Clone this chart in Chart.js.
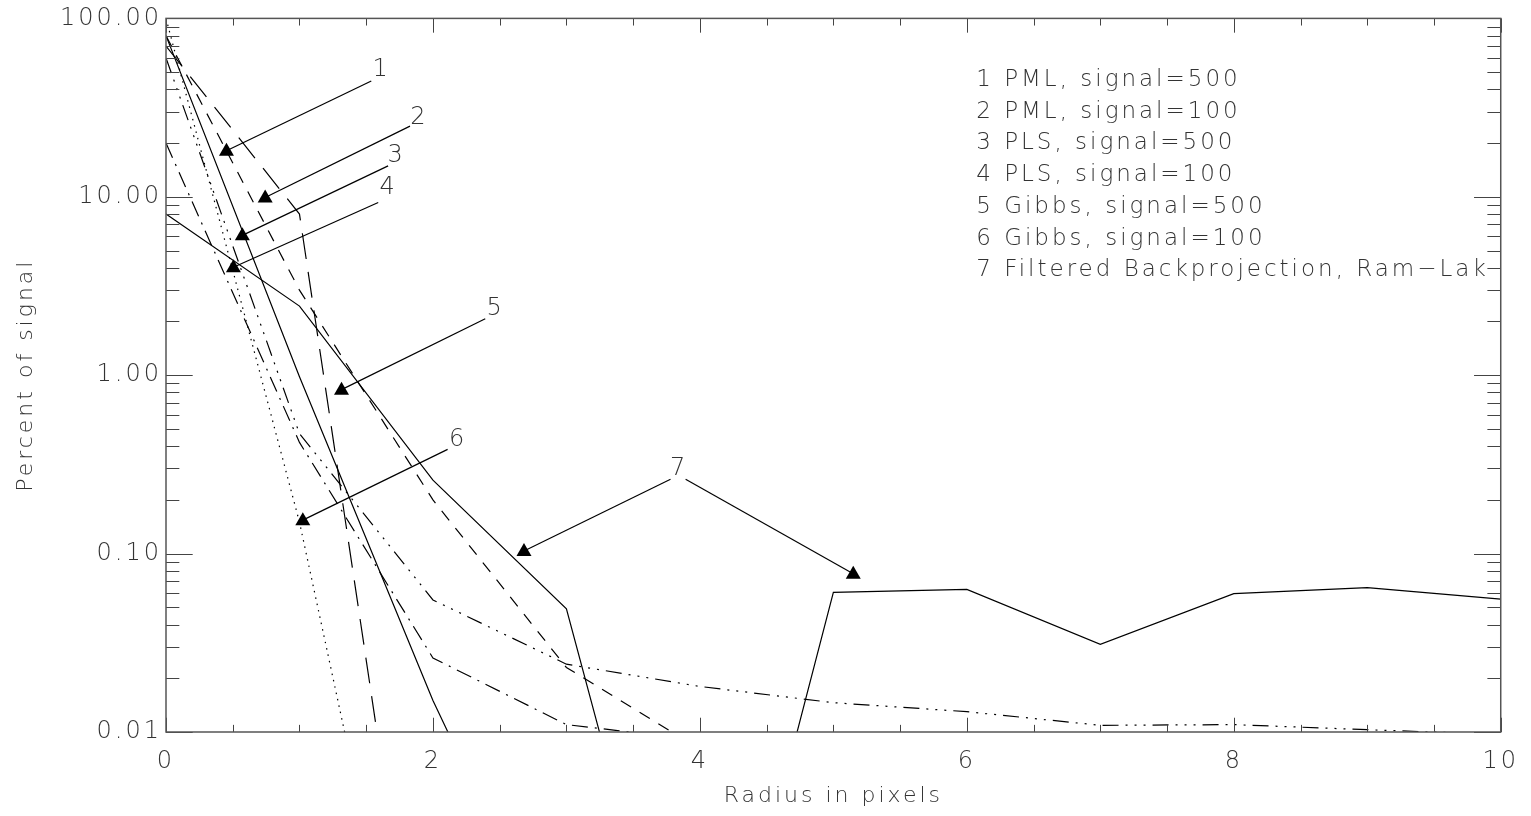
<!DOCTYPE html>
<html>
<head>
<meta charset="utf-8">
<script src="https://cdn.jsdelivr.net/npm/chart.js@4.4.0/dist/chart.umd.min.js"></script>
<style>
  html, body { margin: 0; padding: 0; background: #fff; }
  #wrap { width: 1531px; height: 816px; }
</style>
</head>
<body>
<div id="wrap"><canvas id="psf" width="1531" height="816"></canvas></div>
<script>
// radius (pixels) vs percent of signal
const radii = [0, 1, 2, 3, 4, 5, 6, 7, 8, 9, 10];
const pml500 = [80, 0.98, 0.015, 0.0004, null, null, null, null, null, null, null];
const pml100 = [70, 8.0, 0.00008, null, null, null, null, null, null, null, null];
const pls500 = [80, 3.0, 0.20, 0.023, 0.0080, null, null, null, null, null, null];
const pls100 = [60, 0.47, 0.055, 0.024, 0.018, 0.0146, 0.013, 0.0109, 0.0110, 0.0103, 0.0097];
const gibbs500 = [20, 0.42, 0.026, 0.011, 0.0090, null, null, null, null, null, null];
const gibbs100 = [100, 0.15, 0.00005, null, null, null, null, null, null, null, null];
const ramLak = [8.0, 2.44, 0.258, 0.049, 0.00008, 0.0606, 0.063, 0.031, 0.0597, 0.0645, 0.0556];

const seriesNames = [
    "1 PML, signal=500",
    "2 PML, signal=100",
    "3 PLS, signal=500",
    "4 PLS, signal=100",
    "5 Gibbs, signal=500",
    "6 Gibbs, signal=100",
    "7 Filtered Backprojection, Ram\u2212Lak",
];
const seriesData = [pml500, pml100, pls500, pls100, gibbs500, gibbs100, ramLak];
const seriesDash = [[], [26, 13], [12, 10], [16, 7, 2, 7, 2, 7, 2, 7], [16, 7, 2, 7], [1.5, 5], []];

const yTicks = [0.01, 0.1, 1, 10, 100];
const xTicks = [0, 2, 4, 6, 8, 10];

// numbered arrows: label spot, tail and head, in data units
const arrowText = ["1", "2", "3", "4", "5", "6", "7"];
const arrowLabelAt = [[1.605, 51.3], [1.887, 27.7], [1.716, 17.0], [1.657, 11.3], [2.459, 2.35], [2.177, 0.437], [3.834, 0.297]];
const arrowTails = [[[1.538, 44.6]], [[1.828, 24.9]], [[1.664, 14.9]], [[1.59, 9.29]], [[2.392, 2.07]], [[2.11, 0.384]], [[3.78, 0.261], [3.893, 0.261]]];
const arrowHeads = [[[0.453, 18.1]], [[0.743, 9.9]], [[0.572, 6.08]], [[0.505, 4.03]], [[1.315, 0.83]], [[1.025, 0.154]], [[2.682, 0.1034], [5.149, 0.077]]];

const FONT = '"DejaVu Sans", sans-serif';
Chart.defaults.font.family = FONT;
Chart.defaults.font.size = 24;
Chart.defaults.font.weight = 200;
Chart.defaults.color = "#333";

function seg(ctx, x1, y1, x2, y2) {
    ctx.beginPath();
    ctx.moveTo(x1, y1);
    ctx.lineTo(x2, y2);
    ctx.stroke();
}

const spacing = {
    id: "spacing",
    beforeDraw(chart) {
        chart.ctx.letterSpacing = "3px";
    },
};

const frame = {
    id: "frame",
    afterDraw(chart) {
        const { ctx, chartArea: a, scales } = chart;
        const x = scales.x, y = scales.y;
        const xLen = (a.bottom - a.top) * 0.02;
        const yLen = (a.right - a.left) * 0.02;
        ctx.save();
        ctx.strokeStyle = "#444";
        ctx.lineWidth = 1;
        for (let i = 0; i <= 20; i++) {
            const v = i / 2;
            const px = Math.round(x.getPixelForValue(v)) + 0.5;
            const len = i % 4 === 0 ? xLen : xLen / 2;
            seg(ctx, px, a.bottom, px, a.bottom - len);
            seg(ctx, px, a.top, px, a.top + len);
        }
        for (let d = -2; d <= 2; d++) {
            for (let m = 1; m <= 9; m++) {
                const v = m * Math.pow(10, d);
                if (v > 100.0001) break;
                const py = Math.round(y.getPixelForValue(v)) + 0.5;
                const len = m === 1 ? yLen : yLen / 2;
                seg(ctx, a.left, py, a.left + len, py);
                seg(ctx, a.right, py, a.right - len, py);
            }
        }
        ctx.strokeStyle = "#555";
        ctx.lineWidth = 1.5;
        ctx.strokeRect(a.left, a.top, a.right - a.left, a.bottom - a.top);

        // arrows
        ctx.strokeStyle = "#000";
        ctx.lineWidth = 1.2;
        arrowText.forEach((t, i) => {
            ctx.fillStyle = "#000";
            arrowTails[i].forEach((tail, j) => {
                const head = arrowHeads[i][j];
                const hx = x.getPixelForValue(head[0]), hy = y.getPixelForValue(head[1]);
                seg(ctx, x.getPixelForValue(tail[0]), y.getPixelForValue(tail[1]), hx, hy);
                ctx.beginPath();
                ctx.moveTo(hx, hy - 8);
                ctx.lineTo(hx - 7.5, hy + 5);
                ctx.lineTo(hx + 7.5, hy + 5);
                ctx.closePath();
                ctx.fill();
            });
            ctx.font = "200 24px " + FONT;
            ctx.letterSpacing = "0px";
            ctx.fillStyle = "#333";
            ctx.textAlign = "center";
            ctx.textBaseline = "middle";
            ctx.fillText(t, x.getPixelForValue(arrowLabelAt[i][0]), y.getPixelForValue(arrowLabelAt[i][1]));
        });

        // text key, top right
        ctx.font = "200 23px " + FONT;
        ctx.letterSpacing = "3px";
        ctx.fillStyle = "#333";
        ctx.textAlign = "left";
        ctx.textBaseline = "middle";
        const kx = x.getPixelForValue(6.07);
        const ky = y.getPixelForValue(45.1);
        seriesNames.forEach((name, i) => {
            ctx.fillText(name, kx, ky + i * 31.7);
        });
        ctx.restore();
    },
};

new Chart(document.getElementById("psf"), {
    type: "line",
    data: {
        datasets: seriesNames.map((name, i) => ({
            label: name,
            data: radii.map((r, k) => ({ x: r, y: seriesData[i][k] })),
            borderColor: "#000",
            borderWidth: 1.2,
            borderDash: seriesDash[i],
            pointRadius: 0,
            tension: 0,
            fill: false,
            spanGaps: false,
        })),
    },
    options: {
        responsive: false,
        animation: false,
        devicePixelRatio: 1,
        layout: { padding: { top: 15, right: 19, left: 0, bottom: 0 } },
        plugins: {
            legend: { display: false },
            tooltip: { enabled: false },
        },
        scales: {
            x: {
                type: "linear",
                min: 0,
                max: 10,
                afterFit(scale) {
                    scale.height = 84;
                },
                afterBuildTicks(scale) {
                    scale.ticks = xTicks.map((v) => ({ value: v }));
                },
                ticks: {
                    padding: 15,
                    maxRotation: 0,
                    autoSkip: false,
                    callback: (v) => String(v),
                },
                grid: { display: false, drawTicks: false },
                border: { display: false },
                title: {
                    display: true,
                    text: "Radius in pixels",
                    font: { size: 22 },
                    padding: { top: 0, bottom: 7 },
                },
            },
            y: {
                type: "logarithmic",
                min: 0.01,
                max: 100,
                afterFit(scale) {
                    scale.width = 166;
                },
                afterBuildTicks(scale) {
                    scale.ticks = yTicks.map((v) => ({ value: v }));
                },
                ticks: {
                    padding: 4,
                    autoSkip: false,
                    callback: (v) => Number(v).toFixed(2),
                },
                grid: { display: false, drawTicks: false },
                border: { display: false },
                title: {
                    display: true,
                    text: "Percent of signal",
                    font: { size: 22 },
                    padding: { top: 13, bottom: 0 },
                },
            },
        },
    },
    plugins: [spacing, frame],
});
</script>
</body>
</html>
